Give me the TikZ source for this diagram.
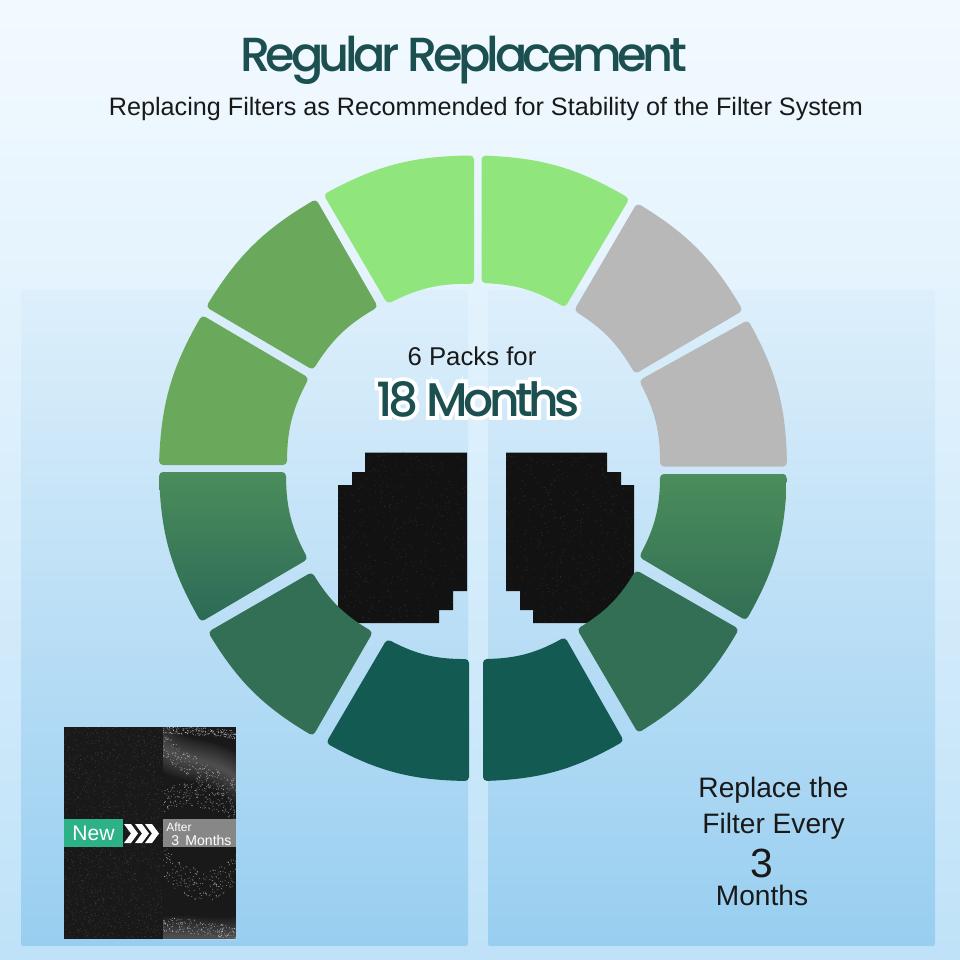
\documentclass[tikz,border=0pt]{standalone}
\usepackage{fontspec}
\setmainfont{Liberation Sans}
\newfontfamily\titlefont[LetterSpace=-9.3,UprightFont={* Medium}]{Poppins}
\newfontfamily\halofont[LetterSpace=-9.3,UprightFont={* Medium},FakeBold=16]{Poppins}
\usetikzlibrary{calc}

\definecolor{skytop}{HTML}{F3FAFF}
\definecolor{skymid}{HTML}{D8EFFB}
\definecolor{skylow}{HTML}{BFE2F8}
\definecolor{paneltop}{HTML}{DDEFFB}
\definecolor{panelmid}{HTML}{C3E5F8}
\definecolor{panellow}{HTML}{98CEF0}
\definecolor{lightleaf}{HTML}{90E67C}
\definecolor{leaf}{HTML}{6AA85B}
\definecolor{ash}{HTML}{B8B8B8}
\definecolor{pine}{HTML}{326F55}
\definecolor{pinetop}{HTML}{4B8D5B}
\definecolor{pinelow}{HTML}{2C6A57}
\definecolor{deepteal}{HTML}{135A52}
\definecolor{inkteal}{HTML}{1B4F50}
\definecolor{newgreen}{HTML}{2DB287}

\tikzset{
  panelbox/.style={rounded corners=0.6mm,top color=paneltop,middle color=panelmid,bottom color=panellow},
  caption/.style={anchor=base,inner sep=0pt,text=black!90},
}

% corners go clockwise: outer start, outer end, inner end, inner start
\newcommand{\ringseg}[5]{%
  \path[rounded corners=1mm,#5] #1 to[bend left=14] #2 -- #3 to[bend right=14] #4 -- cycle;}

\begin{document}
\begin{tikzpicture}[x=0.025cm,y=0.025cm]
  \useasboundingbox (0,0) rectangle (960,-960);
  \pgfmathsetseed{42}
% background
  \shade[top color=skytop,middle color=skymid,bottom color=skylow] (0,0) rectangle (960,-960);
  \path[panelbox] (21,-290) rectangle (468,-946);
  \path[panelbox] (488,-290) rectangle (935,-946);
% filters
  \begin{scope}
    \clip (365,-452.7) -- (467,-452.7) -- (467,-591) -- (453,-591) -- (453,-610) -- (439,-610)
      -- (439,-623) -- (338,-623) -- (338,-485) -- (352,-485) -- (352,-472) -- (365,-472) -- cycle
      (506,-452.7) -- (607,-452.7) -- (607,-472) -- (621,-472) -- (621,-485) -- (634,-485)
      -- (634,-623) -- (533,-623) -- (533,-610) -- (520,-610) -- (520,-591) -- (506,-591) -- cycle;
    \fill[black!93] (330,-445) rectangle (640,-630);
    \foreach \i in {1,...,1500}
      \fill[black!82] ({330+rnd*310},{-445-rnd*185}) circle (0.5);
  \end{scope}
% ring
  \ringseg{(481.5,-155.5)}{(629.5,-198.5)}{(565,-307.5)}{(481.5,-283)}{fill=lightleaf}
  \ringseg{(637,-203)}{(743,-310.5)}{(635,-374)}{(574,-310.5)}{fill=ash}
  \ringseg{(748,-320)}{(787,-466.5)}{(660,-466.5)}{(639,-380.5)}{fill=ash}
  \ringseg{(787,-474)}{(746,-620.5)}{(639,-557)}{(660,-474)}{top color=pinetop,middle color=pine,bottom color=pine}
  \ringseg{(739,-629)}{(638,-733)}{(577,-629)}{(636,-570)}{fill=pine}
  \ringseg{(624,-741)}{(483,-781)}{(483,-659)}{(565,-637)}{fill=deepteal}
  \ringseg{(469,-781)}{(326,-743)}{(387,-639)}{(469,-659)}{fill=deepteal}
  \ringseg{(313,-736)}{(208,-632)}{(312,-572)}{(373,-632)}{fill=pine}
  \ringseg{(201,-622)}{(159,-472)}{(286,-472)}{(308,-559)}{top color=pinetop,middle color=pine,bottom color=pinelow}
  \ringseg{(159,-465)}{(202,-315)}{(309,-378)}{(287,-465)}{fill=leaf}
  \ringseg{(206,-307)}{(316,-199)}{(378,-307)}{(313,-370)}{fill=leaf}
  \ringseg{(323.5,-194.5)}{(474,-155.5)}{(474,-284)}{(387.5,-304)}{fill=lightleaf}
% titles
  \node[caption,text=inkteal,font=\titlefont\fontsize{34}{34}\selectfont] (title) at (463.5,-71) {Regular Replacement};
  \node[caption,font=\fontsize{17.9}{20}\selectfont] (subtitle) at (486,-115) {Replacing Filters as Recommended for Stability of the Filter System};
  \node[caption,font=\fontsize{18.3}{20}\selectfont] (packs) at (472,-365) {6 Packs for};
  \node[caption,text=white,font=\halofont\fontsize{33.5}{34}\selectfont] (halo) at (478,-416) {18 Months};
  \node[caption,text=inkteal,font=\titlefont\fontsize{33.5}{34}\selectfont] (months) at (478,-416) {18 Months};
% new and used
  \fill[black!90] (64,-727) rectangle (236,-939);
  \foreach \i in {1,...,1800}
    \fill[black!74] ({64.5+rnd*98},{-727.5-rnd*211}) circle (0.4);
  \begin{scope}
    \clip (163,-727) rectangle (236,-939);
    \foreach \w in {30,27,24,21,18,15,12,9,6,3}{
      \draw[line width=\w,white,opacity=0.028,line cap=round] (150,-735) .. controls (185,-775) and (205,-745) .. (250,-790);
      \draw[line width=\w,white,opacity=0.028,line cap=round] (150,-940) .. controls (190,-932) and (210,-944) .. (250,-936);
    }
    \foreach \ya/\yb/\yc/\spread in {745/775/790/24,800/785/812/24,860/905/870/32,925/925/935/14,730/730/735/8}
      \foreach \i in {1,...,210}{
        \pgfmathsetmacro{\t}{rnd}
        \pgfmathsetmacro{\u}{1-\t}
        \fill[white,opacity=0.5] ({163+73*\t},{-(\ya*\u*\u+2*\yb*\t*\u+\yc*\t*\t)-(rnd-.5)*\spread}) circle (0.5);
      }
  \end{scope}
  \node[fill=newgreen,minimum width=59*0.025cm,minimum height=28*0.025cm,inner sep=0pt,text=white,font=\fontsize{15}{15}\selectfont] (new) at (93.5,-833) {New};
  \node[fill=black!47,minimum width=73*0.025cm,minimum height=28*0.025cm,inner sep=0pt] (after) at (199.5,-833) {};
  \node[anchor=base west,inner sep=0pt,text=white,font=\fontsize{8.5}{9}\selectfont] (afterword) at (166,-831) {After};
  \node[anchor=base west,inner sep=0pt,text=white,font=\fontsize{10}{10}\selectfont] (afternum) at (171,-845) {3\hspace{0.45em}Months};
  \foreach \x in {124,135,145}
    \fill[white] (\x,-824) -- ++(7,0) -- ++(7,-9.5) -- ++(-7,-9.5) -- ++(-7,0) -- ++(7,9.5) -- cycle;
% replace note
  \node[caption,font=\fontsize{20}{20}\selectfont] (replace) at (773.5,-797) {Replace the};
  \node[caption,font=\fontsize{20}{20}\selectfont] (every) at (773.5,-833) {Filter Every};
  \node[caption,font=\fontsize{29}{29}\selectfont] (three) at (762,-877) {3};
  \node[caption,font=\fontsize{20}{20}\selectfont] (monthsnote) at (762,-905) {Months};
\end{tikzpicture}
\end{document}
